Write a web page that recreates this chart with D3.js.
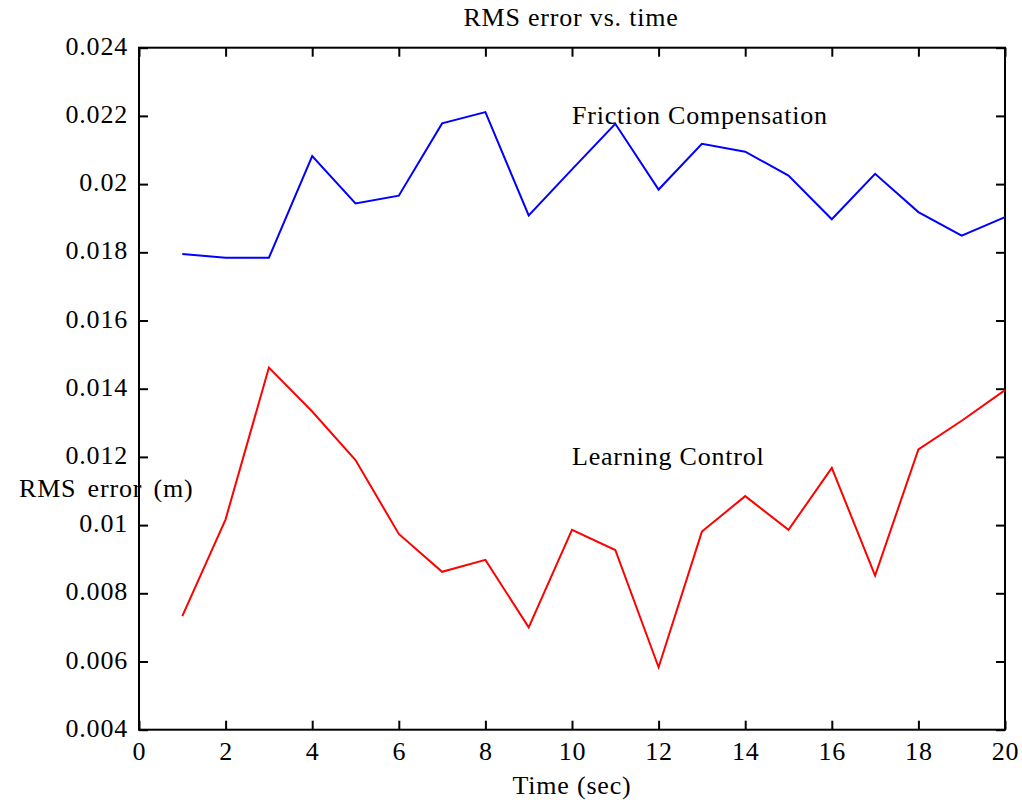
<!DOCTYPE html>
<html>
<head>
<meta charset="utf-8">
<script src="https://cdn.jsdelivr.net/npm/d3@7"></script>
<style>
  body { margin: 0; background: #fff; }
  text { font-family: "Liberation Serif", "Times New Roman", serif; font-size: 26px; letter-spacing: 0.8px; fill: #000; }
</style>
</head>
<body>
<div class="canvas"></div>
<script>
// data
const time = [1,2,3,4,5,6,7,8,9,10,11,12,13,14,15,16,17,18,19,20];
const friction = [0.01795,0.01784,0.01784,0.02082,0.01943,0.01966,0.02178,0.02211,0.01908,0.02043,
                  0.02177,0.01984,0.02118,0.02095,0.02025,0.01897,0.0203,0.01918,0.01849,0.01903];
const learning = [0.00733,0.01017,0.01462,0.01333,0.01191,0.00974,0.00863,0.00898,0.0070,0.00986,
                  0.00927,0.00583,0.00981,0.01085,0.00986,0.01168,0.00852,0.01222,0.01306,0.01396];
const xTicks = [0,2,4,6,8,10,12,14,16,18,20];
const yTicks = [0.004,0.006,0.008,0.01,0.012,0.014,0.016,0.018,0.02,0.022,0.024];
const yTickLabels = ['0.004','0.006','0.008','0.01','0.012','0.014','0.016','0.018','0.02','0.022','0.024'];

const width = 1022, height = 809;
const margin = {top:47.7, bottom:79.3, left:139, right:17};
const graphWidth = width - margin.left - margin.right;
const graphHeight = height - margin.top - margin.bottom;

const svg = d3.select('.canvas')
    .append('svg')
        .attr('width', width)
        .attr('height', height);

const graph = svg.append('g')
    .attr('transform', `translate(${margin.left},${margin.top})`);

const x = d3.scaleLinear().domain([0,20]).range([0,graphWidth]);
const y = d3.scaleLinear().domain([0.004,0.024]).range([graphHeight,0]);

const tickLen = 9;

// ticks on all four sides, pointing inward
const xAxisB = d3.axisBottom(x).tickValues(xTicks).tickSizeInner(-tickLen).tickSizeOuter(0).tickPadding(24);
const xAxisT = d3.axisTop(x).tickValues(xTicks).tickSizeInner(-tickLen).tickSizeOuter(0).tickFormat('');
const yAxisL = d3.axisLeft(y).tickValues(yTicks).tickSizeInner(-tickLen).tickSizeOuter(0).tickPadding(11)
    .tickFormat((d,i) => yTickLabels[i]);
const yAxisR = d3.axisRight(y).tickValues(yTicks).tickSizeInner(-tickLen).tickSizeOuter(0).tickFormat('');

const styleAxis = g => {
    g.select('.domain').remove();
    g.selectAll('line').attr('stroke','#000').attr('stroke-width',2);
    g.attr('font-family',null).attr('font-size',null);
};

graph.append('g').attr('transform',`translate(0,${graphHeight})`).call(xAxisB).call(styleAxis);
graph.append('g').call(xAxisT).call(styleAxis);
graph.append('g').call(yAxisL).call(styleAxis);
graph.append('g').attr('transform',`translate(${graphWidth},0)`).call(yAxisR).call(styleAxis);

graph.selectAll('.tick text').attr('dy', '-2').attr('dominant-baseline','central');

// frame
graph.append('rect')
    .attr('width', graphWidth)
    .attr('height', graphHeight)
    .attr('fill','none')
    .attr('stroke','#000')
    .attr('stroke-width',2);

const line = d3.line()
    .x((d,i) => x(time[i]))
    .y(d => y(d));

graph.append('path')
    .datum(friction)
    .attr('d', line)
    .attr('fill','none')
    .attr('stroke','#0000ff')
    .attr('stroke-width',2);

graph.append('path')
    .datum(learning)
    .attr('d', line)
    .attr('fill','none')
    .attr('stroke','#ff0000')
    .attr('stroke-width',2);

// in-plot labels
graph.append('text').attr('x', x(10)).attr('y', y(0.0219)).attr('dy', -4).attr('dominant-baseline','central')
    .text('Friction Compensation');
graph.append('text').attr('x', x(10)).attr('y', y(0.01193)).attr('dy', -3).attr('dominant-baseline','central')
    .text('Learning Control');

// titles
svg.append('text').attr('x', 571).attr('y', 26).attr('text-anchor','middle').text('RMS error vs. time');
svg.append('text').attr('x', 572).attr('y', 794).attr('text-anchor','middle').text('Time (sec)');
svg.append('text').attr('x', 19).attr('y', 497).attr('word-spacing','4px').text('RMS error (m)');
</script>
</body>
</html>
